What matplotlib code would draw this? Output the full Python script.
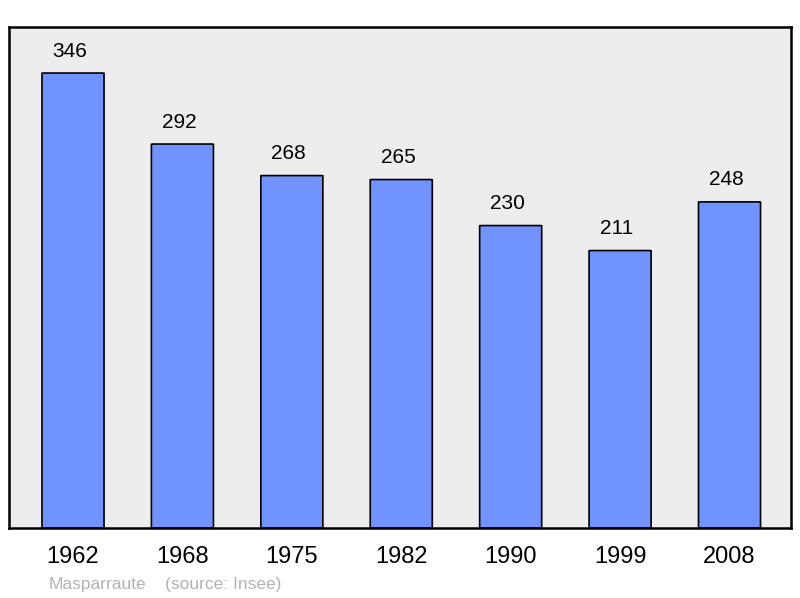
import matplotlib
matplotlib.use("Agg")
import matplotlib.pyplot as plt
from matplotlib.patches import FancyBboxPatch

plt.rcParams['font.family'] = ['Liberation Sans', 'DejaVu Sans']

years = ['1962', '1968', '1975', '1982', '1990', '1999', '2008']
population = [346, 292, 268, 265, 230, 211, 248]
commune = 'Masparraute'
source = '(source: Insee)'

fig = plt.figure(figsize=(8, 5.98), dpi=100)
ax = fig.add_axes([9 / 800, 70 / 598, 782 / 800, 501 / 598])
ax.set_facecolor('#ededed')

bar_w = 0.567
for i, v in enumerate(population):
    # bars with slightly rounded corners
    p = FancyBboxPatch((i - bar_w / 2, 0), bar_w, v,
                       boxstyle='round,pad=0,rounding_size=0.02',
                       mutation_aspect=381 / 7.15 * 782 / 501 / 7.15 * 0.9,
                       facecolor='#7093ff', edgecolor='black', linewidth=1.2)
    ax.add_patch(p)
    ax.annotate(str(v), (i, v), xytext=(-3, 22), textcoords='offset pixels',
                ha='center', va='center', fontsize=15)

ax.set_xlim(-0.585, 6.562)
ax.set_ylim(0, 381)
ax.set_xticks(range(len(years)))
ax.set_xticklabels(years, fontsize=17)
ax.tick_params(axis='x', length=0, pad=13)
ax.set_yticks([])
for s in ax.spines.values():
    s.set_linewidth(1.8)

fig.text(49 / 800, 1 - 584 / 598, commune, fontsize=12.5, color='#b3b3b3',
         ha='left', va='center')
fig.text(165 / 800, 1 - 584 / 598, source, fontsize=12.5, color='#b3b3b3',
         ha='left', va='center')

fig.savefig('out.png', dpi=100)
